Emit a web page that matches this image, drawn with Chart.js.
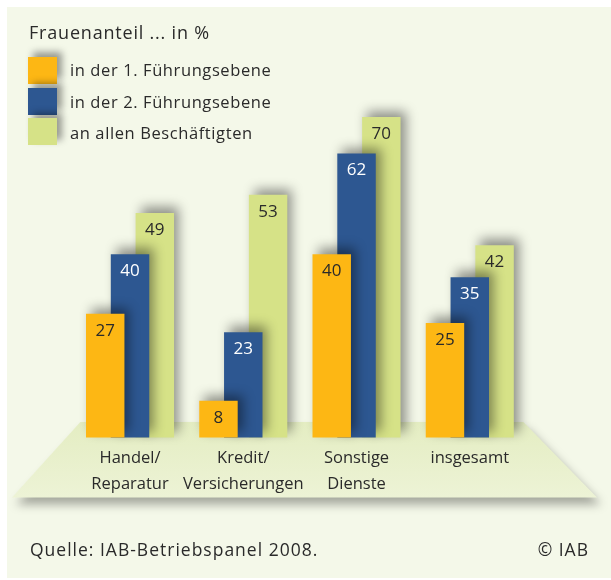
<!DOCTYPE html>
<html>
<head>
<meta charset="utf-8">
<script src="https://cdn.jsdelivr.net/npm/chart.js@4.4.1/dist/chart.umd.min.js"></script>
<style>
  html, body { margin: 0; padding: 0; background: #ffffff; }
  #wrap { position: relative; width: 611px; height: 580px; overflow: hidden; }
  #panel { position: absolute; left: 7px; top: 7px; width: 604px; height: 571px; background: #F4F8E9; }
  #c { position: absolute; left: 0; top: 0; }
  .txt { position: absolute; font-family: "Open Sans", sans-serif; color: #2a2a2a; white-space: nowrap; line-height: 1; }
  #legend { position: absolute; left: 28px; top: 57px; }
  .item { position: relative; height: 30.5px; }
  .box { position: absolute; left: 0; top: 0; width: 29px; height: 27px; box-shadow: 5px -5px 7px rgba(0,0,0,0.38); }
  .lbl { position: absolute; left: 42px; top: 5px; font-size: 16.5px; letter-spacing: 0.6px; }
</style>
</head>
<body>
<div id="wrap">
  <div id="panel"></div>
  <canvas id="c" width="611" height="580"></canvas>
  <div id="title" class="txt" style="left:29px; top:23px; font-size:18px; letter-spacing:0.8px;"></div>
  <div id="legend"></div>
  <div id="source" class="txt" style="left:30px; top:541px; font-size:17.5px; letter-spacing:1px;"></div>
  <div id="copy" class="txt" style="right:22px; top:541px; font-size:17.5px; letter-spacing:1px;"></div>
</div>
<script>
// Frauenanteil nach Branche und Führungsebene (IAB-Betriebspanel 2008)
const chartTitle = 'Frauenanteil ... in %';
const categories = [['Handel/', 'Reparatur'], ['Kredit/', 'Versicherungen'], ['Sonstige', 'Dienste'], ['insgesamt']];
const seriesNames = ['in der 1. Führungsebene', 'in der 2. Führungsebene', 'an allen Beschäftigten'];
const ebene1 = [27, 8, 40, 25];
const ebene2 = [40, 23, 62, 35];
const alleBeschaeftigten = [49, 53, 70, 42];
const sourceText = 'Quelle: IAB-Betriebspanel 2008.';
const copyText = '© IAB';

const colors = ['#FDB714', '#2D5791', '#D6E287'];
const labelColors = ['#2a2a2a', '#ffffff', '#2a2a2a'];
const seriesValues = [ebene1, ebene2, alleBeschaeftigten];

// Texts and legend
document.getElementById('title').textContent = chartTitle;
document.getElementById('source').textContent = sourceText;
document.getElementById('copy').textContent = copyText;
const legend = document.getElementById('legend');
seriesNames.forEach((name, i) => {
  const item = document.createElement('div');
  item.className = 'item';
  const box = document.createElement('div');
  box.className = 'box';
  box.style.background = colors[i];
  const lbl = document.createElement('div');
  lbl.className = 'txt lbl';
  lbl.style.top = (5 + i) + 'px';
  lbl.textContent = name;
  item.appendChild(box);
  item.appendChild(lbl);
  legend.appendChild(item);
});

// Light trapezoid "floor" under the bars, drawn before the axis labels
const floorPlugin = {
  id: 'floor',
  beforeDraw(chart) {
    const { ctx, chartArea } = chart;
    const topY = chartArea.bottom - 15.5;
    const botY = chartArea.bottom + 60;
    ctx.save();
    ctx.shadowColor = 'rgba(0,0,0,0.32)';
    ctx.shadowBlur = 10;
    ctx.shadowOffsetX = 4;
    ctx.shadowOffsetY = 7;
    const g = ctx.createLinearGradient(0, topY, 0, botY);
    g.addColorStop(0, '#E4EDC2');
    g.addColorStop(1, '#EDF3D6');
    ctx.fillStyle = g;
    ctx.beginPath();
    ctx.moveTo(chartArea.left + 7, topY);
    ctx.lineTo(chartArea.right - 3, topY);
    ctx.lineTo(597, botY);
    ctx.lineTo(12, botY);
    ctx.closePath();
    ctx.fill();
    ctx.restore();
  }
};

// Soft drop shadow behind every bar
const shadowPlugin = {
  id: 'barShadow',
  beforeDatasetDraw(chart) {
    const ctx = chart.ctx;
    ctx.save();
    ctx.shadowColor = 'rgba(0,0,0,0.42)';
    ctx.shadowBlur = 11;
    ctx.shadowOffsetX = 5;
    ctx.shadowOffsetY = -6;
  },
  afterDatasetDraw(chart) {
    chart.ctx.restore();
  }
};

// Value labels inside the top of each bar
const valueLabelPlugin = {
  id: 'valueLabels',
  afterDatasetsDraw(chart) {
    const ctx = chart.ctx;
    ctx.save();
    ctx.font = '17px "Open Sans", sans-serif';
    ctx.textAlign = 'center';
    ctx.textBaseline = 'middle';
    chart.data.datasets.forEach((ds, di) => {
      const meta = chart.getDatasetMeta(di);
      ctx.fillStyle = labelColors[di];
      meta.data.forEach((bar, i) => {
        ctx.fillText(String(ds.data[i]), bar.x, bar.y + 17);
      });
    });
    ctx.restore();
  }
};

new Chart(document.getElementById('c'), {
  type: 'bar',
  data: {
    labels: categories,
    datasets: seriesNames.map((name, i) => ({
      label: name,
      data: seriesValues[i],
      backgroundColor: colors[i],
      borderWidth: 0,
      categoryPercentage: 0.657,
      barPercentage: 1.55,
      clip: false
    }))
  },
  options: {
    responsive: false,
    animation: false,
    events: [],
    layout: { padding: { left: 73.4, right: 84.6, top: 71.1, bottom: 82.5 } },
    plugins: { legend: { display: false }, tooltip: { enabled: false } },
    scales: {
      x: {
        grid: { display: false, drawTicks: false },
        border: { display: false },
        ticks: {
          padding: 7.5,
          autoSkip: false,
          maxRotation: 0,
          minRotation: 0,
          color: '#2a2a2a',
          font: { family: '"Open Sans", sans-serif', size: 16.5, lineHeight: 26 / 16.5 }
        },
        afterFit(scale) { scale.height = 60; }
      },
      y: {
        display: false,
        min: 0,
        max: 80
      }
    }
  },
  plugins: [floorPlugin, shadowPlugin, valueLabelPlugin]
});
</script>
</body>
</html>
